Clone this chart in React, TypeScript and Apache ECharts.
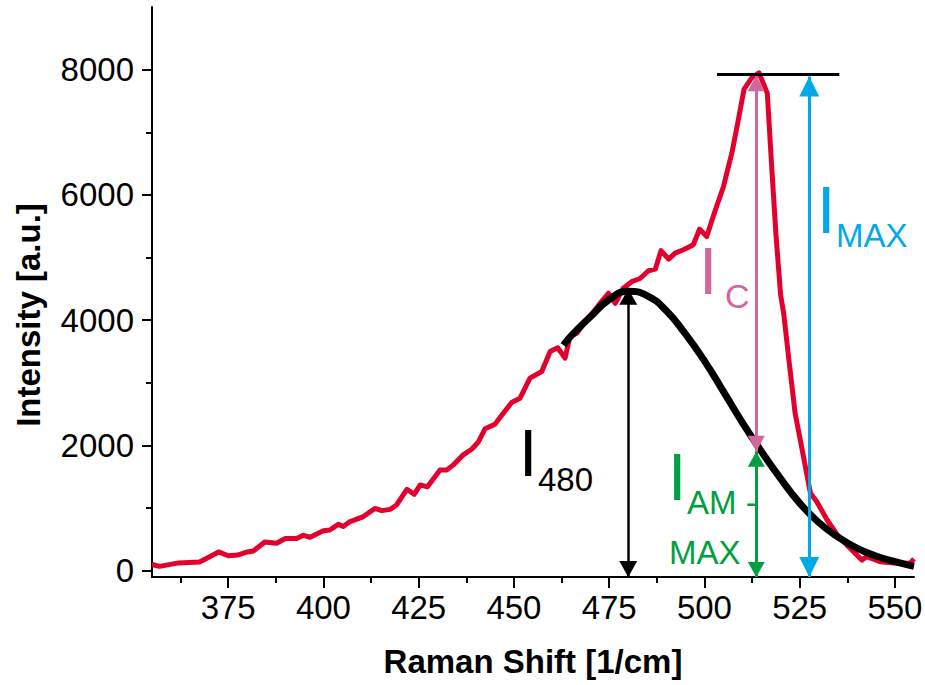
import React, { useEffect, useRef } from 'react';
import * as echarts from 'echarts';

const FONT = '"Liberation Sans", Arial, Helvetica, sans-serif';

// Axis ticks
const xMajorTicks = [375, 400, 425, 450, 475, 500, 525, 550];
const xMinorTicks = [362.5, 387.5, 412.5, 437.5, 462.5, 487.5, 512.5, 537.5];
const yMajorTicks = [0, 2000, 4000, 6000, 8000];
const yMinorTicks = [1000, 3000, 5000, 7000];

// Measured Raman spectrum (red)
const spectrumShift = [
  355, 357, 362, 367.5, 372.5, 375, 377.5, 380, 381.6, 384.6, 387.7, 390, 393, 394.7, 396.5,
  400, 401.7, 403.9, 405.2, 407, 410.5, 413.5, 415.3, 417.5, 419.2, 421.9, 423.8, 425.4, 427.3,
  430.6, 432.4, 434.1, 436.7, 438.9, 440.7, 442.4, 445, 447.2, 449.4, 451.6, 454.2, 457.3, 459.5,
  461.5, 463.4, 464.7, 466.5, 469.1, 470.9, 472.6, 474.8, 476.6, 478.7, 480.9, 483.1, 485.3,
  487.1, 488.6, 490.6, 492.3, 494.5, 497.1, 498.7, 500.6, 502.6, 505, 507.2, 508.9, 510.4, 512.4,
  514.3, 515.6, 516.5, 517.7, 518.8, 520, 520.8, 522.1, 523.8, 526, 527.8, 529.5, 532.2, 535.2,
  537.8, 541.3, 542.6, 546.1, 550.5, 554, 555,
];
const spectrumIntensity = [
  100, 70, 125, 140, 300, 240, 250, 300, 315, 460, 440, 515, 515, 565, 535,
  640, 650, 740, 705, 785, 865, 995, 960, 980, 1050, 1300, 1220, 1370, 1340,
  1610, 1610, 1690, 1850, 1940, 2060, 2265, 2340, 2515, 2685, 2755, 3075, 3180, 3500,
  3560, 3395, 3740, 3790, 4005, 4135, 4270, 4430, 4270, 4510, 4615, 4665, 4790,
  4815, 5110, 4975, 5070, 5125, 5205, 5455, 5335, 5710, 6135, 6670, 7200, 7690, 7870,
  7950, 7760, 7620, 6400, 5340, 4400, 4110, 3400, 2515, 1820, 1240, 1100, 810, 545,
  385, 170, 225, 145, 120, 120, 190,
];

// Fitted band (black)
const fitShift = [463, 465, 470, 475, 480, 485, 490, 495, 500, 505, 510, 515, 520, 525, 530, 535, 540, 545, 550, 555];
const fitIntensity = [3600, 3750, 4050, 4330, 4460, 4390, 4150, 3780, 3350, 2860, 2360, 1900, 1470, 1080, 770, 540, 360, 235, 145, 70];

// Annotation arrows: [shift, bottom, top]
const arrowI480 = [480, -100, 4500];
const arrowIC = [513.6, 1900, 7910];
const arrowIAM = [513.6, -100, 1900];
const arrowIMAX = [527.5, -100, 7890];
const maxLine = [503.3, 535.4, 7920];

const RED = '#e3002c';
const PINK = '#d4669e';
const GREEN = '#00a040';
const BLUE = '#00aae8';

function arrow(a: number[], color: string, width: number, size: number[]) {
  const end = (v: number) => ({
    coord: [a[0], v],
    symbol: 'triangle',
    symbolSize: size,
    symbolOffset: [0, size[1] / 2],
    itemStyle: { color },
  });
  return [{ ...end(a[1]), lineStyle: { color, width, type: 'solid' } }, end(a[2])];
}

function txt(text: string, x: number, y: number, size: number, color: string) {
  return {
    type: 'text',
    x,
    y,
    silent: true,
    style: { text, fontSize: size, fontFamily: FONT, fill: color, align: 'left', verticalAlign: 'middle' },
  };
}

export default function App() {
  const ref = useRef<HTMLDivElement>(null);
  useEffect(() => {
    document.body.style.margin = '0';
    const chart = echarts.init(ref.current!, undefined, { renderer: 'svg' });
    const axisCommon = {
      type: 'value',
      splitLine: { show: false },
    };
    chart.setOption({
      animation: false,
      backgroundColor: '#ffffff',
      grid: { left: 152, right: 11, top: 7, bottom: 108, containLabel: false, outerBoundsMode: 'none' },
      xAxis: [
        {
          ...axisCommon,
          min: 355,
          max: 555,
          position: 'bottom',
          axisLine: { show: true, onZero: false, lineStyle: { color: '#000', width: 2 } },
          axisTick: { show: true, length: 11, customValues: xMajorTicks, lineStyle: { color: '#000', width: 2 } },
          axisLabel: {
            customValues: xMajorTicks,
            fontSize: 33,
            fontFamily: FONT,
            color: '#000',
            margin: 14,
            formatter: (v: number) => String(v),
          },
        },
        {
          ...axisCommon,
          min: 355,
          max: 555,
          position: 'bottom',
          axisLine: { show: false, onZero: false },
          axisTick: { show: true, length: 6, customValues: xMinorTicks, lineStyle: { color: '#000', width: 2 } },
          axisLabel: { show: false },
        },
      ],
      yAxis: [
        {
          ...axisCommon,
          min: -100,
          max: 9000,
          position: 'left',
          axisLine: { show: true, onZero: false, lineStyle: { color: '#000', width: 2 } },
          axisTick: { show: true, length: 10, customValues: yMajorTicks, lineStyle: { color: '#000', width: 2 } },
          axisLabel: {
            customValues: yMajorTicks,
            fontSize: 33,
            fontFamily: FONT,
            color: '#000',
            margin: 18,
            formatter: (v: number) => String(v),
          },
        },
        {
          ...axisCommon,
          min: -100,
          max: 9000,
          position: 'left',
          axisLine: { show: false, onZero: false },
          axisTick: { show: true, length: 6, customValues: yMinorTicks, lineStyle: { color: '#000', width: 2 } },
          axisLabel: { show: false },
        },
      ],
      series: [
        {
          name: 'Spectrum',
          type: 'line',
          data: spectrumShift.map((x, i) => [x, spectrumIntensity[i]]),
          showSymbol: false,
          lineStyle: { color: RED, width: 5, join: 'round' },
          itemStyle: { color: RED },
          z: 2,
          silent: true,
        },
        {
          name: 'Fit',
          type: 'line',
          data: fitShift.map((x, i) => [x, fitIntensity[i]]),
          smooth: 0.5,
          showSymbol: false,
          lineStyle: { color: '#000', width: 7, cap: 'butt' },
          itemStyle: { color: '#000' },
          z: 3,
          silent: true,
        },
        {
          name: 'Annotations',
          type: 'line',
          data: [],
          z: 4,
          silent: true,
          markLine: {
            silent: true,
            animation: false,
            label: { show: false },
            emphasis: { disabled: true },
            data: [
              arrow(arrowIC, PINK, 3, [17, 16]),
              arrow(arrowIAM, GREEN, 3, [17, 15]),
              arrow(arrowIMAX, BLUE, 3, [20, 20]),
              arrow(arrowI480, '#000', 2.5, [18, 16]),
              [
                { coord: [maxLine[0], maxLine[2]], symbol: 'none', lineStyle: { color: '#000', width: 3, type: 'solid' } },
                { coord: [maxLine[1], maxLine[2]], symbol: 'none' },
              ],
            ],
          },
        },
      ],
      graphic: [
        {
          type: 'text',
          x: 28,
          y: 315,
          rotation: Math.PI / 2,
          silent: true,
          style: {
            text: 'Intensity [a.u.]',
            fontSize: 33,
            fontWeight: 'bold',
            fontFamily: FONT,
            fill: '#000',
            align: 'center',
            verticalAlign: 'middle',
          },
        },
        {
          type: 'text',
          x: 533,
          y: 661,
          silent: true,
          style: {
            text: 'Raman Shift [1/cm]',
            fontSize: 33,
            fontWeight: 'bold',
            fontFamily: FONT,
            fill: '#000',
            align: 'center',
            verticalAlign: 'middle',
          },
        },
        txt('I', 519, 453, 66, '#000'),
        txt('480', 538, 479, 33, '#000'),
        txt('I', 699, 271, 66, PINK),
        txt('C', 725, 296, 34, PINK),
        txt('I', 817, 210, 66, BLUE),
        txt('MAX', 836, 235, 33, BLUE),
        txt('I', 668, 477, 66, GREEN),
        txt('AM -', 687, 502, 33, GREEN),
        txt('MAX', 669, 552, 33, GREEN),
      ],
    });
    return () => chart.dispose();
  }, []);
  return <div ref={ref} style={{ width: 925, height: 685 }} />;
}
